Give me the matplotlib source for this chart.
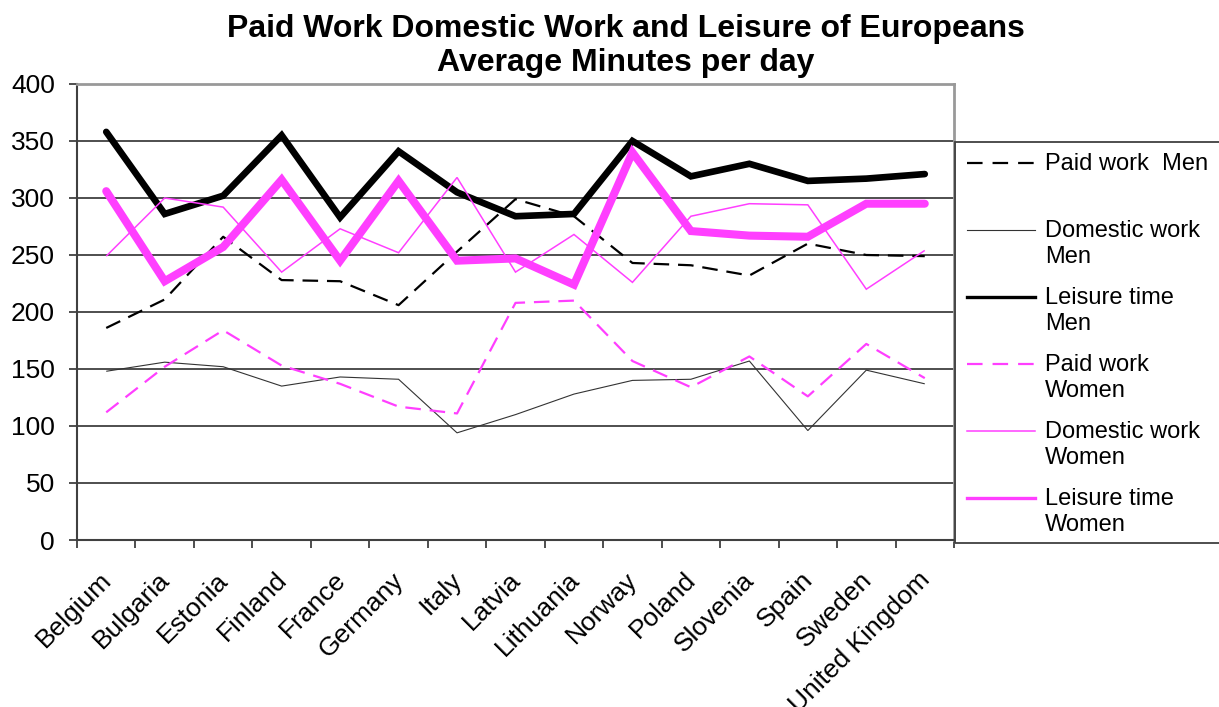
import matplotlib
matplotlib.use("Agg")
import matplotlib.pyplot as plt
import matplotlib.transforms as mtransforms
from matplotlib.lines import Line2D
from matplotlib.patches import Rectangle
import numpy as np

plt.rcParams["font.family"] = ["Liberation Sans", "DejaVu Sans"]

countries = ["Belgium", "Bulgaria", "Estonia", "Finland", "France", "Germany",
             "Italy", "Latvia", "Lithuania", "Norway", "Poland", "Slovenia",
             "Spain", "Sweden", "United Kingdom"]

paid_men = [186, 211, 266, 228, 227, 206, 253, 299, 284, 243, 241, 232, 260, 250, 249]
dom_men = [148, 156, 152, 135, 143, 141, 94, 110, 128, 140, 141, 157, 96, 149, 137]
leis_men = [358, 286, 302, 355, 283, 341, 305, 284, 286, 350, 319, 330, 315, 317, 321]
paid_women = [112, 152, 184, 153, 137, 117, 111, 208, 210, 157, 134, 161, 126, 172, 142]
dom_women = [249, 300, 292, 235, 273, 252, 318, 235, 268, 226, 284, 295, 294, 220, 254]
leis_women = [306, 227, 257, 316, 245, 315, 245, 247, 224, 340, 271, 267, 266, 295, 295]

labels = ["Paid work  Men", "Domestic work\nMen", "Leisure time\nMen",
          "Paid work\nWomen", "Domestic work\nWomen", "Leisure time\nWomen"]

MAG = "#FF3FFF"
# (values, color, linewidth, dashed, legend linewidth)
series = [
    (paid_men, "black", 1.6, True, 1.6),
    (dom_men, "#333333", 0.8, False, 0.8),
    (leis_men, "black", 4.8, False, 2.4),
    (paid_women, MAG, 1.6, True, 1.6),
    (dom_women, MAG, 1.1, False, 1.1),
    (leis_women, MAG, 5.8, False, 2.4),
]

W, H = 1219, 707
fig = plt.figure(figsize=(W / 100, H / 100), dpi=100)
ax = fig.add_axes([77 / W, 1 - 540 / H, (954 - 77) / W, (540 - 84) / H])

x = np.arange(len(countries))
for vals, col, lw, dashed, _ in series:
    ln, = ax.plot(x, vals, color=col, lw=lw, solid_joinstyle="miter",
                  solid_capstyle="round" if lw > 3 else "butt")
    if dashed:
        ln.set_dashes((7, 4))

ax.set_xlim(-0.5, len(countries) - 0.5)
ax.set_ylim(0, 400)
ax.set_yticks(np.arange(0, 401, 50))
ax.yaxis.grid(True, color="#404040", lw=1.3)
ax.set_axisbelow(True)
ax.tick_params(axis="y", labelsize=19, length=6, width=1.3, color="#404040", pad=10)

ax.set_xticks(x)
ax.set_xticklabels(countries, rotation=45, ha="right", va="top",
                   rotation_mode="anchor", fontsize=19)
ax.set_xticks(np.arange(-0.5, len(countries)), minor=True)
ax.tick_params(axis="x", which="major", length=0, pad=20)
ax.tick_params(axis="x", which="minor", length=6, width=1.3, color="#404040")
shift = mtransforms.ScaledTranslation(-7 / 100, 0, fig.dpi_scale_trans)
for lab in ax.get_xticklabels():
    lab.set_transform(lab.get_transform() + shift)

for s in ["left", "bottom"]:
    ax.spines[s].set_color("#404040")
    ax.spines[s].set_linewidth(1.5)
for s in ["top", "right"]:
    ax.spines[s].set_color("#999999")
    ax.spines[s].set_linewidth(2)

fig.text(626 / W, 1 - 14 / H,
         "Paid Work Domestic Work and Leisure of Europeans\nAverage Minutes per day",
         ha="center", va="top", fontsize=23, fontweight="bold", linespacing=1.18)

# legend box, cut off at the right edge like the source
fig.patches.append(Rectangle((955 / W, 1 - 543 / H), 300 / W, (543 - 142) / H,
                             transform=fig.transFigure, fill=False,
                             edgecolor="#404040", lw=1.3))
y0, step = 163, 67
for i, (vals, col, lw, dashed, llw) in enumerate(series):
    yy = 1 - (y0 + i * step) / H
    hl = Line2D([967 / W, 1035 / W], [yy, yy], transform=fig.transFigure,
                color=col, lw=llw)
    if dashed:
        hl.set_dashes((7, 4.5))
    fig.lines.append(hl)
    fig.text(1045 / W, yy + 10 / H, labels[i], ha="left", va="top",
             fontsize=17, linespacing=1.25)

fig.savefig("out.png", dpi=100)
